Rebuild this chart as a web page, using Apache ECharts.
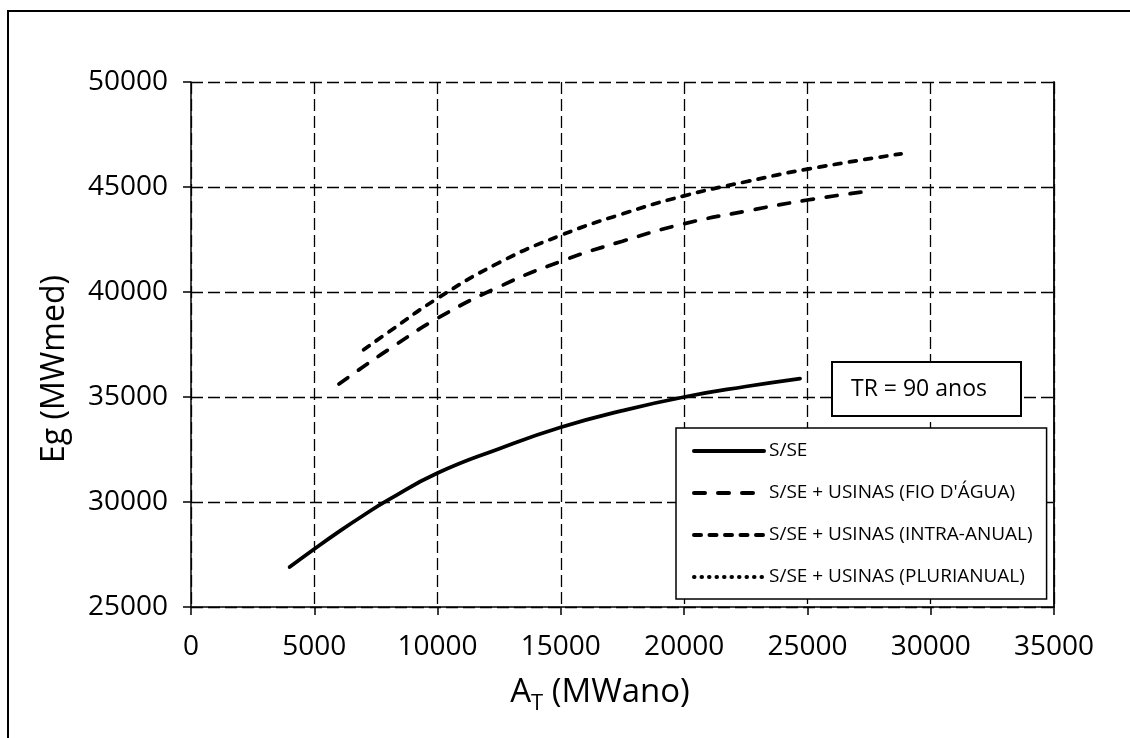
<!DOCTYPE html>
<html>
<head>
<meta charset="utf-8">
<script src="https://cdn.jsdelivr.net/npm/echarts@6/dist/echarts.min.js"></script>
<style>
  html, body { margin: 0; padding: 0; background: #ffffff; }
  #chart { width: 1130px; height: 738px; }
</style>
</head>
<body>
<div id="chart"></div>
<script>
// Firm energy (Eg, MWmed) against total storage (A_T, MWano), TR = 90 anos
const seriesNames = [
  'S/SE',
  "S/SE + USINAS (FIO D'ÁGUA)",
  'S/SE + USINAS (INTRA-ANUAL)',
  'S/SE + USINAS (PLURIANUAL)'
];

const sseX = [4000, 5000, 6000, 7000, 8000, 10000, 12500, 15000, 17500, 20000, 22500, 24700];
const sseY = [26900, 27760, 28590, 29370, 30100, 31380, 32540, 33560, 34350, 35000, 35500, 35880];

const fioX = [6000, 7000, 8000, 10000, 12500, 15000, 17500, 20000, 22500, 25000, 27350];
const fioY = [35620, 36450, 37250, 38750, 40250, 41460, 42420, 43250, 43850, 44380, 44780];

const intraX = [7000, 8000, 10000, 12500, 15000, 17500, 20000, 22500, 25000, 28800];
const intraY = [37250, 38080, 39700, 41400, 42700, 43720, 44580, 45250, 45850, 46580];

// no visible curve for the pluriannual case, only its legend entry
const pluriX = [];
const pluriY = [];

const xTicks = { min: 0, max: 35000, step: 5000 };
const yTicks = { min: 25000, max: 50000, step: 5000 };

const FONT = 'Open Sans';
const zip = (xs, ys) => xs.map((x, i) => [x, ys[i]]);

const chart = echarts.init(document.getElementById('chart'), null, { renderer: 'canvas' });

function lineSeries(name, xs, ys, type) {
  return {
    name: name,
    type: 'line',
    data: zip(xs, ys),
    smooth: true,
    symbol: 'none',
    showSymbol: false,
    lineStyle: { color: '#000', width: 3.75, type: type, cap: 'round' },
    itemStyle: { color: '#000' },
    emphasis: { disabled: true }
  };
}

chart.setOption({
  animation: false,
  backgroundColor: '#ffffff',
  textStyle: { fontFamily: FONT },
  graphic: [{
    type: 'rect',
    silent: true,
    shape: { x: 8, y: 11, width: 1200, height: 900 },
    style: { fill: 'none', stroke: '#000', lineWidth: 2 },
    z: 100
  }],
  title: {
    text: 'TR = 90 anos',
    left: 832,
    top: 362,
    padding: [15, 34, 15, 19],
    borderColor: '#000',
    borderWidth: 2,
    backgroundColor: '#ffffff',
    textStyle: { fontFamily: FONT, fontSize: 23, fontWeight: 'normal', color: '#000', lineHeight: 24 },
    z: 10
  },
  legend: {
    orient: 'vertical',
    left: 676,
    top: 428,
    padding: [13, 14, 12, 16],
    itemGap: 22,
    itemWidth: 70,
    itemHeight: 14,
    borderColor: '#000',
    borderWidth: 1.5,
    backgroundColor: '#ffffff',
    selectedMode: false,
    itemStyle: { opacity: 0 },
    lineStyle: { width: 4, cap: 'round' },
    textStyle: { fontFamily: FONT, fontSize: 19, color: '#000', lineHeight: 20 },
    data: seriesNames,
    z: 10
  },
  grid: { left: 191, top: 82, right: 76, bottom: 131, containLabel: false },
  xAxis: {
    type: 'value',
    min: xTicks.min,
    max: xTicks.max,
    interval: xTicks.step,
    name: 'A{sub|T} (MWano)',
    nameLocation: 'middle',
    nameGap: 64,
    nameTextStyle: {
      fontFamily: FONT, fontSize: 33, color: '#000',
      padding: [0, 45, 0, 0],
      rich: { sub: { fontFamily: FONT, fontSize: 22, color: '#000', padding: [22, 0, 0, 0] } }
    },
    axisLine: { show: true, lineStyle: { color: '#000', width: 1.5 } },
    axisTick: { show: true, length: 8, lineStyle: { color: '#000', width: 1.5 } },
    axisLabel: {
      margin: 26, fontFamily: FONT, fontSize: 28, color: '#000',
      formatter: v => String(v)
    },
    splitLine: { show: true, lineStyle: { color: '#000', width: 1.3, type: [12, 5] } }
  },
  yAxis: [{
    type: 'value',
    min: yTicks.min,
    max: yTicks.max,
    interval: yTicks.step,
    name: 'Eg (MWmed)',
    nameLocation: 'middle',
    nameGap: 120,
    nameTextStyle: { fontFamily: FONT, fontSize: 32, color: '#000', padding: [0, 49, 0, 0] },
    axisLine: { show: true, lineStyle: { color: '#000', width: 1.5 } },
    axisTick: { show: true, length: 8, lineStyle: { color: '#000', width: 1.5 } },
    axisLabel: {
      margin: 23, fontFamily: FONT, fontSize: 28, color: '#000',
      formatter: v => String(v)
    },
    splitLine: { show: true, lineStyle: { color: '#000', width: 1.3, type: [12, 5] } }
  }, {
    type: 'value',
    position: 'right',
    min: yTicks.min,
    max: yTicks.max,
    interval: yTicks.step,
    axisLine: { show: true, lineStyle: { color: '#000', width: 1.8 } },
    axisTick: { show: false },
    axisLabel: { show: false },
    splitLine: { show: false }
  }],
  series: [
    lineSeries(seriesNames[0], sseX, sseY, 'solid'),
    lineSeries(seriesNames[1], fioX, fioY, [11, 13]),
    lineSeries(seriesNames[2], intraX, intraY, [7, 8.5]),
    lineSeries(seriesNames[3], pluriX, pluriY, [0.5, 7])
  ]
});
</script>
</body>
</html>
